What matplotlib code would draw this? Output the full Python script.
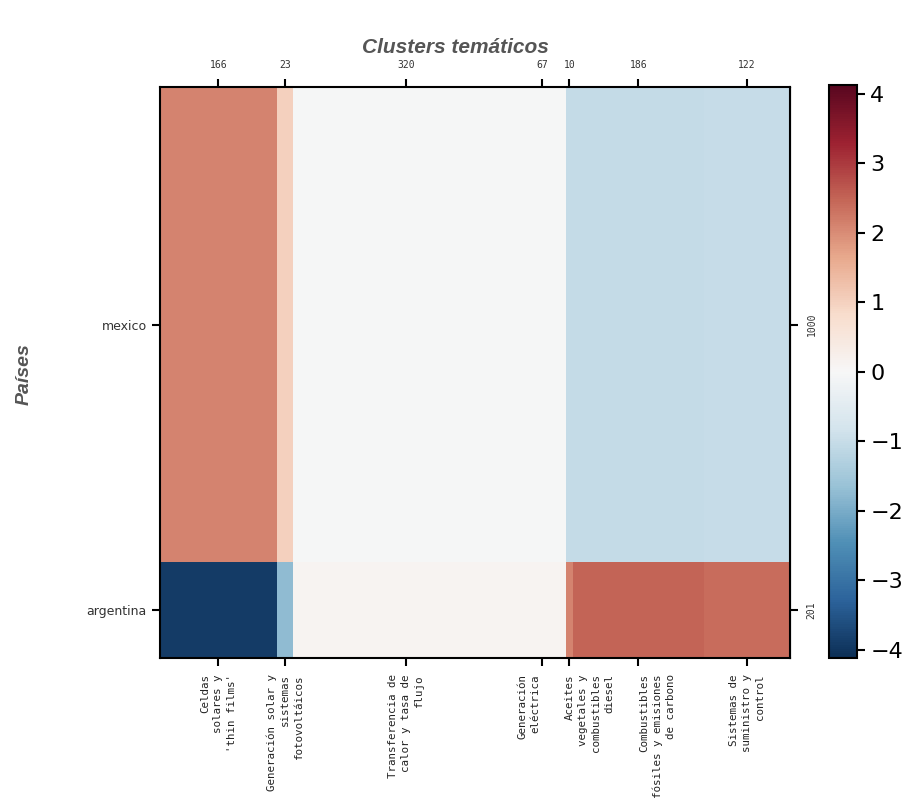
import numpy as np
import matplotlib
matplotlib.use("Agg")
import matplotlib.pyplot as plt
from matplotlib.colors import Normalize, ListedColormap
from matplotlib.transforms import ScaledTranslation

# column clusters and how many documents each holds
clusters = ["Celdas\nsolares y\n'thin films'",
            "Generación solar y\nsistemas\nfotovoltáicos",
            "Transferencia de\ncalor y tasa de\nflujo",
            "Generación\neléctrica",
            "Aceites\nvegetales y\ncombustibles\ndiesel",
            "Combustibles\nfósiles y emisiones\nde carbono",
            "Sistemas de\nsuministro y\ncontrol"]
cluster_counts = [166, 23, 320, 67, 10, 186, 122]

# rows, bottom to top
countries = ["argentina", "mexico"]
country_counts = [201, 1000]

# standardized residuals per country / cluster
argentina = [-3.9, -1.75, 0.1, 0.1, 2.1, 2.5, 2.4]
mexico = [2.1, 1.0, -0.05, -0.05, -1.05, -1.05, -1.02]

vlim = 4.12

xe = np.concatenate([[0], np.cumsum(cluster_counts)])
ye = np.concatenate([[0], np.cumsum(country_counts)])
xc = (xe[:-1] + xe[1:]) / 2
yc = (ye[:-1] + ye[1:]) / 2
Z = np.array([argentina, mexico])

# RdBu_r pulled a bit toward gray
base = plt.get_cmap("RdBu_r")(np.linspace(0, 1, 256))[:, :3]
lum = (base @ np.array([0.299, 0.587, 0.114]))[:, None]
cmap = ListedColormap(base * 0.8 + lum * 0.2)

fig = plt.figure(figsize=(9.1, 8.02), dpi=100)
ax = fig.add_axes([0.1758, 0.1796, 0.6923, 0.712])
norm = Normalize(vmin=-vlim, vmax=vlim)
mesh = ax.pcolormesh(xe, ye, Z, cmap=cmap, norm=norm)
ax.set_xlim(xe[0], xe[-1])
ax.set_ylim(ye[0], ye[-1])

for s in ax.spines.values():
    s.set_linewidth(1.5)

ax.set_xticks(xc)
ax.set_xticklabels([])
# cluster names drawn as text so crowded ones can be nudged sideways (px)
shifts = [0, 0, 0, -13, 20, 19, 0]
for x, name, dx in zip(xc, clusters, shifts):
    tr = ax.get_xaxis_transform() + ScaledTranslation(dx / 100, -0.165,
                                                      fig.dpi_scale_trans)
    ax.text(x, 0, name, transform=tr, rotation=90, family="DejaVu Sans Mono",
            fontsize=7.8, va="top", ha="center", multialignment="right",
            linespacing=1.4, color="#222222")
ax.set_yticks(yc)
ax.set_yticklabels(countries, fontsize=9, color="#333333")
ax.tick_params(axis="both", direction="out", length=6, width=1.5)

# counts on the top and right
top = ax.secondary_xaxis("top")
top.set_xticks(xc)
top.set_xticklabels([str(c) for c in cluster_counts], family="DejaVu Sans Mono",
                    fontsize=7, color="#333333")
top.tick_params(direction="out", length=6, width=1.5, pad=6)
right = ax.secondary_yaxis("right")
right.set_yticks(yc)
right.set_yticklabels([str(c) for c in country_counts], rotation=90,
                      family="DejaVu Sans Mono", fontsize=7, va="center",
                      color="#333333")
right.tick_params(direction="out", length=6, width=1.5, pad=6)

fig.text(0.5, 0.941, "Clusters temáticos", ha="center", va="center",
         family="Liberation Sans", fontsize=15, fontweight="bold",
         fontstyle="italic", color="#555555")
fig.text(0.027, 0.533, "Países", ha="center", va="center", rotation=90,
         family="Liberation Sans", fontsize=14, fontweight="bold",
         fontstyle="italic", color="#555555")

cax = fig.add_axes([0.911, 0.1796, 0.031, 0.714])
cb = fig.colorbar(mesh, cax=cax, ticks=range(-4, 5))
cb.outline.set_linewidth(1.5)
cb.ax.tick_params(labelsize=16, length=6, width=1.5)

fig.savefig("out.png", dpi=100)
